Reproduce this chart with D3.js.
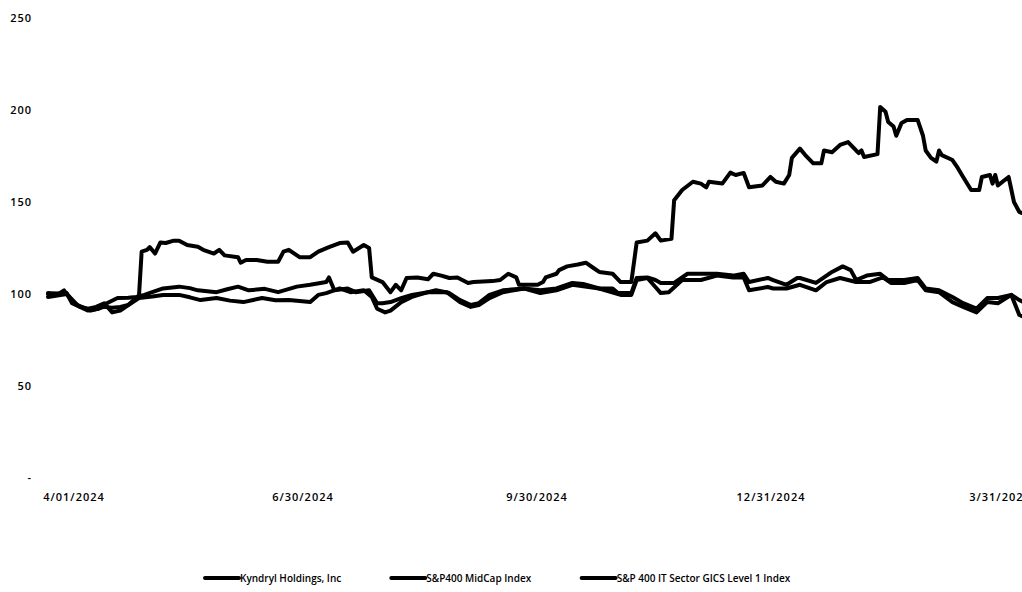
<!DOCTYPE html>
<html>
<head>
<meta charset="utf-8">
<script src="https://cdn.jsdelivr.net/npm/d3@7"></script>
<style>
  body { margin: 0; background: #fff; }
  svg { display: block; }
  text { font-family: 'Open Sans', 'Noto Sans', sans-serif; fill: #000; font-weight: 600; }
</style>
</head>
<body>
<svg id="chart" width="1022" height="592"></svg>
<script>
// values (indexed to 100 on 4/01/2024)
var kyndryl = [
  ['2024-04-01', 100.5], ['2024-04-05', 100], ['2024-04-07', 102], ['2024-04-10', 96],
  ['2024-04-13', 93], ['2024-04-16', 92], ['2024-04-19', 93], ['2024-04-22', 95],
  ['2024-04-25', 90], ['2024-04-28', 91], ['2024-05-01', 94], ['2024-05-04', 98],
  ['2024-05-05', 99], ['2024-05-06', 123], ['2024-05-08', 124], ['2024-05-09', 125.5],
  ['2024-05-11', 122], ['2024-05-13', 128], ['2024-05-15', 127.7], ['2024-05-18', 129],
  ['2024-05-20', 129], ['2024-05-23', 126.6], ['2024-05-27', 125.7], ['2024-05-29', 124],
  ['2024-06-02', 122], ['2024-06-04', 124], ['2024-06-06', 121], ['2024-06-11', 120],
  ['2024-06-12', 117], ['2024-06-14', 118.5], ['2024-06-18', 118.5], ['2024-06-22', 117.5],
  ['2024-06-26', 117.5], ['2024-06-28', 123], ['2024-06-30', 124], ['2024-07-04', 120],
  ['2024-07-08', 120], ['2024-07-11', 123], ['2024-07-15', 125.5], ['2024-07-19', 127.7],
  ['2024-07-22', 128], ['2024-07-24', 123], ['2024-07-28', 126.6], ['2024-07-30', 125],
  ['2024-07-31', 109], ['2024-08-04', 106.5], ['2024-08-07', 101], ['2024-08-09', 105],
  ['2024-08-11', 102], ['2024-08-13', 108.7], ['2024-08-17', 109], ['2024-08-21', 108],
  ['2024-08-23', 111], ['2024-08-26', 110], ['2024-08-29', 108.7], ['2024-09-01', 109],
  ['2024-09-05', 106], ['2024-09-07', 106.5], ['2024-09-14', 107], ['2024-09-17', 107.6],
  ['2024-09-20', 111], ['2024-09-23', 109], ['2024-09-24', 105], ['2024-10-01', 105],
  ['2024-10-03', 106.5], ['2024-10-04', 109], ['2024-10-08', 111], ['2024-10-09', 113],
  ['2024-10-12', 115], ['2024-10-16', 116], ['2024-10-19', 117], ['2024-10-22', 114],
  ['2024-10-24', 112], ['2024-10-29', 111], ['2024-11-01', 106.5], ['2024-11-05', 106.5],
  ['2024-11-07', 128], ['2024-11-11', 129], ['2024-11-14', 133], ['2024-11-16', 129],
  ['2024-11-20', 130], ['2024-11-21', 151], ['2024-11-24', 156.5], ['2024-11-28', 161],
  ['2024-12-01', 160], ['2024-12-03', 158], ['2024-12-04', 161], ['2024-12-09', 160],
  ['2024-12-12', 166], ['2024-12-14', 164.7], ['2024-12-17', 165.8], ['2024-12-19', 158],
  ['2024-12-24', 159], ['2024-12-27', 163.6], ['2024-12-29', 161], ['2025-01-01', 160],
  ['2025-01-03', 164.7], ['2025-01-04', 174], ['2025-01-07', 179], ['2025-01-09', 175.5],
  ['2025-01-12', 171], ['2025-01-15', 171], ['2025-01-16', 178], ['2025-01-19', 177],
  ['2025-01-22', 181], ['2025-01-25', 182.6], ['2025-01-28', 178], ['2025-01-29', 176.6],
  ['2025-01-30', 178], ['2025-01-31', 174.5], ['2025-02-05', 176], ['2025-02-06', 201.6],
  ['2025-02-08', 199], ['2025-02-09', 193.5], ['2025-02-11', 191], ['2025-02-12', 186],
  ['2025-02-14', 193], ['2025-02-16', 194.6], ['2025-02-20', 194.6], ['2025-02-22', 186],
  ['2025-02-23', 178], ['2025-02-25', 174], ['2025-02-27', 172], ['2025-02-28', 178],
  ['2025-03-01', 175.5], ['2025-03-05', 172.8], ['2025-03-07', 168.5], ['2025-03-09', 163.6],
  ['2025-03-12', 156.5], ['2025-03-15', 156.5], ['2025-03-16', 163.6], ['2025-03-19', 164.7],
  ['2025-03-20', 160], ['2025-03-21', 164.7], ['2025-03-22', 159], ['2025-03-26', 163.6],
  ['2025-03-28', 150], ['2025-03-30', 144.6], ['2025-03-31', 144]
]

var midcap = [
  ['2024-04-01', 98.4], ['2024-04-08', 100], ['2024-04-12', 94], ['2024-04-17', 91],
  ['2024-04-22', 93], ['2024-04-25', 92.5], ['2024-04-28', 93], ['2024-05-01', 94],
  ['2024-05-05', 97.8], ['2024-05-10', 98.6], ['2024-05-14', 99.5], ['2024-05-20', 99.5],
  ['2024-05-24', 98.2], ['2024-05-28', 96.7], ['2024-06-03', 97.8], ['2024-06-08', 96.4],
  ['2024-06-13', 95.6], ['2024-06-20', 97.8], ['2024-06-25', 96.6], ['2024-06-30', 96.7],
  ['2024-07-08', 95.6], ['2024-07-11', 99.5], ['2024-07-14', 100.5], ['2024-07-19', 103],
  ['2024-07-23', 101], ['2024-07-28', 102], ['2024-07-31', 98.4], ['2024-08-02', 92],
  ['2024-08-05', 90], ['2024-08-07', 91], ['2024-08-11', 95.6], ['2024-08-15', 98.4],
  ['2024-08-21', 101], ['2024-08-28', 101], ['2024-09-02', 95.6], ['2024-09-06', 93],
  ['2024-09-09', 94], ['2024-09-13', 97.8], ['2024-09-18', 101], ['2024-09-26', 103],
  ['2024-10-02', 100.5], ['2024-10-08', 102], ['2024-10-14', 105], ['2024-10-24', 103],
  ['2024-11-01', 99.5], ['2024-11-05', 99.5], ['2024-11-07', 107.6], ['2024-11-11', 108.7],
  ['2024-11-14', 103.8], ['2024-11-16', 100.5], ['2024-11-19', 101], ['2024-11-24', 107.6],
  ['2024-12-01', 107.6], ['2024-12-07', 110], ['2024-12-13', 109], ['2024-12-17', 109],
  ['2024-12-19', 102], ['2024-12-26', 103.8], ['2024-12-28', 103], ['2025-01-02', 103],
  ['2025-01-07', 105], ['2025-01-13', 102], ['2025-01-17', 106.5], ['2025-01-22', 108.7],
  ['2025-01-28', 106.5], ['2025-02-02', 106.5], ['2025-02-07', 109], ['2025-02-10', 106],
  ['2025-02-15', 106], ['2025-02-20', 107.6], ['2025-02-23', 102], ['2025-02-28', 101],
  ['2025-03-05', 95.6], ['2025-03-09', 93], ['2025-03-14', 90], ['2025-03-18', 95.6],
  ['2025-03-22', 95], ['2025-03-27', 99.5], ['2025-03-30', 88.6], ['2025-03-31', 88]
]

var itSector = [
  ['2024-04-01', 100], ['2024-04-08', 100.5], ['2024-04-10', 95], ['2024-04-16', 91],
  ['2024-04-20', 92], ['2024-04-23', 95], ['2024-04-27', 97.8], ['2024-05-01', 98],
  ['2024-05-04', 98.4], ['2024-05-07', 99.5], ['2024-05-14', 103], ['2024-05-20', 104],
  ['2024-05-24', 103.2], ['2024-05-27', 102], ['2024-06-03', 101], ['2024-06-07', 102.6],
  ['2024-06-11', 104], ['2024-06-15', 102], ['2024-06-21', 102.8], ['2024-06-26', 101],
  ['2024-07-03', 104], ['2024-07-08', 105], ['2024-07-14', 106.5], ['2024-07-15', 109],
  ['2024-07-17', 102], ['2024-07-22', 103], ['2024-07-25', 101], ['2024-07-30', 102],
  ['2024-08-02', 95], ['2024-08-04', 95], ['2024-08-07', 95.6], ['2024-08-11', 97.8],
  ['2024-08-15', 99.5], ['2024-08-21', 101], ['2024-08-24', 102], ['2024-08-29', 100.5],
  ['2024-09-02', 96.7], ['2024-09-06', 94], ['2024-09-09', 95], ['2024-09-13', 99.5],
  ['2024-09-18', 102], ['2024-09-26', 103], ['2024-10-02', 102], ['2024-10-08', 103],
  ['2024-10-14', 106], ['2024-10-18', 105.5], ['2024-10-24', 103], ['2024-10-29', 103],
  ['2024-10-31', 100.5], ['2024-11-05', 100.5], ['2024-11-07', 108.7], ['2024-11-11', 109],
  ['2024-11-14', 107.6], ['2024-11-16', 106], ['2024-11-21', 106], ['2024-11-26', 111],
  ['2024-12-01', 111], ['2024-12-07', 111], ['2024-12-13', 110], ['2024-12-17', 111],
  ['2024-12-19', 106.5], ['2024-12-26', 108.7], ['2024-12-28', 107.6], ['2025-01-02', 105],
  ['2025-01-06', 108.7], ['2025-01-07', 108.7], ['2025-01-13', 106], ['2025-01-16', 109],
  ['2025-01-19', 112], ['2025-01-23', 115], ['2025-01-26', 113], ['2025-01-28', 107.6],
  ['2025-02-01', 110], ['2025-02-06', 111], ['2025-02-09', 107.6], ['2025-02-15', 107.6],
  ['2025-02-20', 108.7], ['2025-02-23', 103], ['2025-02-28', 102], ['2025-03-05', 98.4],
  ['2025-03-09', 95], ['2025-03-14', 92], ['2025-03-18', 97.8], ['2025-03-22', 97.8],
  ['2025-03-27', 99.5], ['2025-03-30', 96.7], ['2025-03-31', 96]
]

var seriesNames = ['Kyndryl Holdings, Inc', 'S&P400 MidCap Index', 'S&P 400 IT Sector GICS Level 1 Index']
var yTicks = [0, 50, 100, 150, 200, 250]
var xTickDates = ['2024-04-01', '2024-06-30', '2024-09-30', '2024-12-31', '2025-03-31']
var xTickLabels = ['4/01/2024', '6/30/2024', '9/30/2024', '12/31/2024', '3/31/2025']

var parse = d3.timeParse('%Y-%m-%d')
var series = [kyndryl, midcap, itSector].map((rows, i) => ({
  name: seriesNames[i],
  values: rows.map(d => ({date: parse(d[0]), value: d[1]}))
}))

var svg = d3.select('#chart')

var x = d3.scaleTime()
  .domain([parse('2024-04-01'), parse('2025-03-31')])
  .range([48, 1022])

var y = d3.scaleLinear()
  .domain([0, 250])
  .range([478, 18])

// category labels sit a little inset from the line ends, like the Excel export
var xLabel = d3.scaleTime()
  .domain(x.domain())
  .range([74, 1000])

var labelFont = {size: '11px', spacing: '1px'}

svg.append('g')
  .selectAll('text')
  .data(yTicks)
  .join('text')
  .attr('x', 32)
  .attr('y', d => y(d))
  .attr('dy', '0.35em')
  .attr('text-anchor', 'end')
  .attr('font-size', labelFont.size)
  .attr('letter-spacing', labelFont.spacing)
  .text(d => d == 0 ? '-' : d)

svg.append('g')
  .selectAll('text')
  .data(xTickDates)
  .join('text')
  .attr('x', d => xLabel(parse(d)))
  .attr('y', 497)
  .attr('dy', '0.35em')
  .attr('text-anchor', 'middle')
  .attr('font-size', labelFont.size)
  .attr('letter-spacing', labelFont.spacing)
  .text((d, i) => xTickLabels[i])

var line = d3.line()
  .x(d => x(d.date))
  .y(d => y(d.value))

svg.append('g')
  .selectAll('path')
  .data(series.slice().reverse())
  .join('path')
  .attr('d', d => line(d.values))
  .attr('fill', 'none')
  .attr('stroke', '#000')
  .attr('stroke-width', 4)
  .attr('stroke-linejoin', 'round')
  .attr('stroke-linecap', 'round')

// legend: laid out left to right from the left edge of the first key
var legend = svg.append('g').attr('transform', 'translate(205,578)')
var items = legend.selectAll('g')
  .data(series)
  .join('g')

items.append('line')
  .attr('x1', 0).attr('x2', 34)
  .attr('stroke', '#000')
  .attr('stroke-width', 4)
  .attr('stroke-linecap', 'round')

items.append('text')
  .attr('x', 35)
  .attr('dy', '0.35em')
  .attr('font-size', '10px')
  .text(d => d.name)

var cursor = 0
items.each(function(){
  var w = this.getBBox().width
  d3.select(this).attr('transform', `translate(${cursor},0)`)
  cursor += w + 50
})
</script>
</body>
</html>
